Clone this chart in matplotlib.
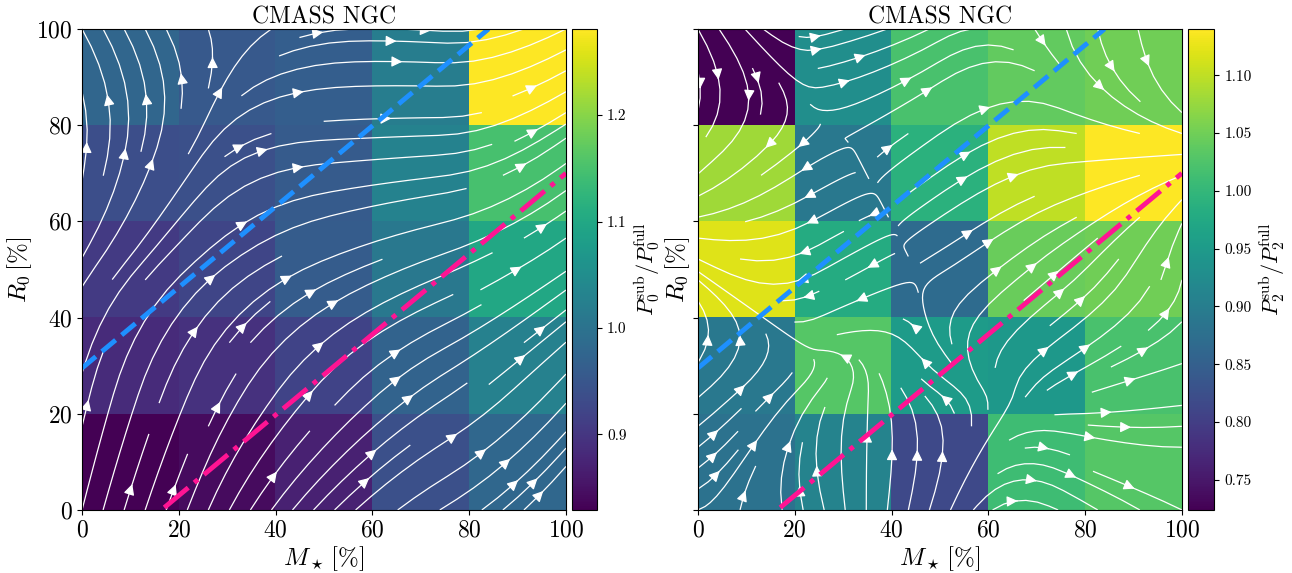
import numpy as np
import matplotlib
matplotlib.use("Agg")
import matplotlib.pyplot as plt

plt.rcParams["font.family"] = "serif"
plt.rcParams["font.serif"] = ["cmr10", "DejaVu Serif"]
plt.rcParams["mathtext.fontset"] = "cm"
plt.rcParams["axes.formatter.use_mathtext"] = True

# 分箱边界 (%)
m_edges = [0, 20, 40, 60, 80, 100]
r_edges = [0, 20, 40, 60, 80, 100]
tick_vals = [0, 20, 40, 60, 80, 100]

# 单极矩比值 P0_sub / P0_full, 行从 R0 低到高
p0_ratio = np.array([
    [0.829, 0.843, 0.870, 0.940, 0.980],
    [0.884, 0.893, 0.920, 0.973, 1.027],
    [0.906, 0.924, 0.960, 1.010, 1.100],
    [0.937, 0.940, 0.958, 1.030, 1.150],
    [0.978, 0.955, 0.964, 1.020, 1.281],
])

# 四极矩比值 P2_sub / P2_full
p2_ratio = np.array([
    [0.880, 0.910, 0.816, 1.010, 1.030],
    [0.890, 1.030, 0.953, 0.945, 1.020],
    [1.120, 0.980, 0.870, 1.045, 1.050],
    [1.080, 0.890, 0.990, 1.100, 1.140],
    [0.724, 0.930, 1.020, 1.040, 1.050],
])

# 两条参考线的端点
blue_x = [0, 84]
blue_y = [29.5, 100]
pink_x = [17, 100]
pink_y = [0.5, 70]

panels = [
    (p0_ratio, r"$P_0^{\rm sub}/P_0^{\rm full}$", [0.9, 1.0, 1.1, 1.2], "%.1f"),
    (p2_ratio, r"$P_2^{\rm sub}/P_2^{\rm full}$",
     [0.75, 0.80, 0.85, 0.90, 0.95, 1.00, 1.05, 1.10], "%.2f"),
]

fig = plt.figure(figsize=(12.92, 5.73), dpi=100)
ax_pos = [[0.0635, 0.110, 0.3746, 0.8395], [0.5402, 0.110, 0.3746, 0.8395]]
cb_pos = [[0.4427, 0.110, 0.0195, 0.8395], [0.9195, 0.110, 0.0205, 0.8395]]
ylabel_x = [-0.099, -0.012]

grid = np.linspace(0, 100, 5)

for i, (data, cb_label, cb_ticks, fmt) in enumerate(panels):
    ax = fig.add_axes(ax_pos[i])
    cax = fig.add_axes(cb_pos[i])

    im = ax.imshow(data, origin="lower", cmap="viridis", aspect="auto",
                   extent=[m_edges[0], m_edges[-1], r_edges[0], r_edges[-1]])

    # 梯度方向的流线
    dv, du = np.gradient(data)
    ax.streamplot(grid, grid, du, dv, color="white", linewidth=0.9,
                  density=0.8, arrowsize=1.6)

    ax.plot(blue_x, blue_y, ls="--", color="#1E90FF", lw=3.5)
    ax.plot(pink_x, pink_y, ls="-.", color="#FF1493", lw=3.5)

    ax.set_xlim(0, 100)
    ax.set_ylim(0, 100)
    ax.set_xticks(tick_vals)
    ax.set_yticks(tick_vals)
    ax.tick_params(labelsize=17)
    if i == 1:
        ax.set_yticklabels([])
    ax.set_title("CMASS NGC", fontsize=17, pad=4)
    ax.set_xlabel(r"$M_\star\,[\%]$", fontsize=18, labelpad=2)
    ax.set_ylabel(r"$R_0\,[\%]$", fontsize=18)
    ax.yaxis.set_label_coords(ylabel_x[i], 0.5)

    cb = fig.colorbar(im, cax=cax, ticks=cb_ticks, format=fmt)
    cb.ax.tick_params(labelsize=11)
    cb.set_label(cb_label, fontsize=16, labelpad=4)

fig.savefig("out.png", dpi=100)
